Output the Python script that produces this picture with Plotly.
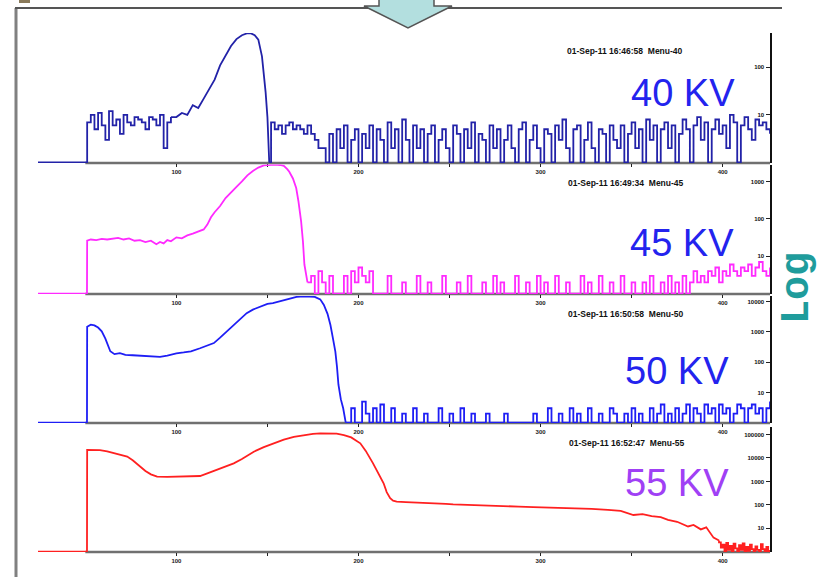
import plotly.graph_objects as go

W, H = 821, 577

# ---------------- data (channel, counts) ----------------
# 40 KV
kv40_front_x = [24, 51, 53, 55, 57, 59, 61, 63, 65, 67, 69, 71, 73, 75, 77, 79, 81, 83, 85, 87, 89, 91, 93, 95, 97]
kv40_front_y = [1, 7, 10, 5, 11, 6, 3, 12, 6, 8, 4, 10, 7, 6, 9, 8, 7, 5, 9, 8, 6, 10, 2, 7, 9]
kv40_body_x = [97, 100, 103, 106, 109, 112, 115, 118, 121, 124, 127, 130, 133, 136, 139, 141, 143, 145, 147, 148, 149, 150, 151]
kv40_body_y = [9, 9, 11, 10, 16, 14, 22, 35, 55, 110, 180, 280, 390, 470, 520, 515, 470, 380, 170, 80, 30, 9, 1]
kv40_tail_x = list(range(152, 427, 2))
kv40_tail_y = [7, 5, 6, 4, 6, 7, 5, 6, 5, 4, 6, 4,
               3, 2, 2, 1,
               4, 1, 5, 2, 6, 1, 3, 5, 1, 4,
               2, 6, 1, 5, 3, 1, 7, 2, 5, 1,
               8, 3, 1, 6, 2, 5, 1, 4, 6, 1,
               3, 5, 2, 1, 6, 4, 1, 5, 2, 7,
               1, 4, 3, 1, 6, 2, 5, 1, 3, 6,
               2, 1, 5, 7, 1, 3, 6, 2, 1, 5,
               4, 1, 6, 3, 8, 2, 1, 5, 6, 1,
               3, 7, 2, 1, 5, 4, 1, 6, 3, 2,
               6, 1, 4, 7, 2, 5, 1, 8, 3, 6,
               1, 5, 7, 2, 6, 1, 4, 8, 5, 1,
               6, 9, 3, 7, 1, 5, 8, 4, 6, 2,
               10, 7, 1, 6, 9, 5, 3, 8, 6, 7,
               5, 4]

# 45 KV
kv45_body_x = [24, 50.9, 51, 53, 56, 59, 62, 65, 68, 71, 74, 77, 80, 83, 86, 89, 91, 93, 95, 97, 100,
               103, 106, 109, 112, 115, 117, 119, 121, 124, 127, 130, 133, 136, 139, 142, 145, 148,
               151, 154, 157, 159, 161, 162, 164, 165.8, 167, 168.5, 169.5, 170.3, 172]
kv45_body_y = [1, 1, 26, 28, 27, 29, 28, 30, 31, 28, 30, 26, 27, 24, 26, 21, 24, 22, 27, 25, 32,
               30, 36, 40, 45, 52, 70, 110, 150, 220, 360, 520, 720, 1000, 1450, 1900, 2350, 2700,
               2800, 2800, 2750, 2600, 2100, 1820, 1200, 665, 300, 85, 25, 6, 2]
kv45_tail_x = list(range(172, 427, 2))
kv45_tail_y = [2, 3, 1, 4, 2, 1, 3, 1, 1, 1,
               3, 1, 4, 2, 5, 3, 2, 4, 1, 1,
               1, 1, 3, 1, 1, 1, 2, 1, 1, 1,
               3, 1, 1, 2, 1, 1, 1, 3, 1, 1,
               1, 2, 1, 1, 3, 1, 1, 1, 2, 1,
               1, 3, 1, 2, 1, 1, 1, 3, 1, 1,
               2, 1, 1, 3, 1, 2, 1, 1, 3, 1,
               1, 2, 1, 1, 1, 3, 1, 2, 1, 1,
               3, 1, 1, 2, 1, 1, 3, 1, 1, 2,
               1, 1, 2, 1, 3, 1, 1, 2, 1, 3,
               1, 2, 1, 3, 1, 2, 4, 2, 3, 2,
               4, 3, 5, 2, 4, 3, 6, 4, 3, 5,
               4, 6, 3, 5, 7, 4, 3, 5]

# 50 KV
kv50_body_x = [24, 50.9, 51, 53, 55, 57, 59, 61, 63.7, 66, 69, 72, 76, 80, 84, 88, 91, 95, 100, 104,
               108, 113, 117, 120.6, 124, 127.6, 131, 134, 138.6, 142, 146, 150, 153, 157, 160, 163,
               166, 170, 173, 176, 179, 181, 183, 184.6, 186, 187.3, 188.2, 189, 190.3, 191.6, 193]
kv50_body_y = [1, 1, 1500, 1750, 1650, 1400, 1050, 600, 230, 185, 200, 175, 170, 165, 160, 158, 150,
               165, 195, 210, 230, 290, 350, 430, 650, 1030, 1600, 2300, 4200, 5500, 7000, 8500, 9000,
               10500, 12000, 13500, 14500, 15000, 15000, 14500, 12000, 7800, 4000, 1700, 600, 225, 70,
               18, 6, 3, 1]
kv50_tail_x = list(range(194, 427, 2))
kv50_tail_y = [1, 3, 1, 1, 5, 2, 1, 3, 1, 4,
               1, 1, 3, 1, 1, 2, 1, 1, 3, 1,
               1, 2, 1, 1, 1, 3, 1, 1, 2, 1,
               1, 3, 1, 1, 2, 1, 1, 1, 2, 1,
               1, 1, 1, 2, 1, 1, 1, 1, 1, 1,
               1, 2, 1, 1, 1, 3, 1, 1, 2, 1,
               1, 3, 1, 2, 1, 1, 3, 1, 1, 2,
               1, 1, 3, 2, 1, 1, 2, 1, 3, 1,
               2, 1, 1, 3, 1, 2, 4, 1, 2, 1,
               3, 1, 2, 4, 1, 3, 2, 1, 4, 2,
               3, 1, 4, 2, 3, 1, 2, 4, 3, 1,
               3, 4, 2, 3, 1, 3, 5]

# 55 KV
kv55_body_x = [24, 50.9, 51, 55, 58, 62, 66, 70, 73, 76, 80, 83, 86, 89.4, 95, 100, 105, 110, 113, 117,
               122.3, 127, 131.5, 136, 142.5, 148, 153.5, 159, 164.5, 170, 175, 179, 184, 188, 192,
               196, 201, 204, 208, 211, 213.8, 215.5, 217.4, 219, 221, 226, 232, 237.5, 243, 248, 252,
               258, 265, 272, 280, 288, 296, 304, 312, 320, 328, 337, 344, 351, 356, 361, 366, 370,
               375, 381, 384, 388, 391, 395, 398]
kv55_body_y = [1, 1, 22000, 22500, 21500, 19000, 16000, 13000, 11400, 8000, 4300, 2800, 2000, 1600,
               1550, 1600, 1580, 1650, 1700, 2200, 3100, 4500, 5900, 9000, 18500, 29000, 42500, 60000,
               80000, 96000, 107000, 112000, 113000, 108000, 95000, 75000, 42000, 20000, 5900, 2000,
               835, 350, 192, 150, 138, 132, 128, 125, 118, 110, 105, 100, 95, 92, 88, 84, 80, 78, 75,
               72, 68, 61, 55, 37, 40, 33, 30, 23, 19, 12, 14, 9, 11, 4, 3]
kv55_tail_x = list(range(398, 427, 1))
kv55_tail_y = [2.5, 1.5, 2, 1, 2.4, 1.2, 1.8, 1, 2.2, 1.4, 1, 1.9, 1.2, 2.3, 1, 1.6, 1.1, 2, 1.3, 1,
               1.7, 1.2, 1, 2.1, 1.3, 1, 1.6, 1, 1.2]

panel_labels = ["40 KV", "45 KV", "50 KV", "55 KV"]
panel_stamps = ["01-Sep-11 16:46:58  Menu-40", "01-Sep-11 16:49:34  Menu-45",
                "01-Sep-11 16:50:58  Menu-50", "01-Sep-11 16:52:47  Menu-55"]
x_tickvals = [100, 150, 200, 250, 300, 350, 400]
x_ticktext = ["100", "", "200", "", "300", "", "400"]
y_tickvals = [[10, 100], [10, 100, 1000], [10, 100, 1000, 10000], [10, 100, 1000, 10000, 100000]]
y_ticktext = [["10", "100"], ["10", "100", "1000"], ["10", "100", "1000", "10000"],
              ["10", "100", "1000", "10000", "100000"]]
y_top = [2.72, 3.45, 4.19, 5.32]

# ---------------- styling / layout ----------------
colors = ["#2222a8", "#ff2aff", "#1e1ef5", "#ff2020"]
label_colors = ["#2323ee", "#2323ee", "#2323ee", "#a040f5"]
panel_pix = [(33, 163), (164.6, 294), (296, 423), (427, 552)]  # (top, bottom) in pixels
label_pos = [(683, 93), (682, 243), (677, 371), (677, 483)]
stamp_pos = [(625, 51), (626, 183), (626, 314), (627, 443)]

def px(x):
    return x / W

def py(y):
    return 1 - y / H

fig = go.Figure()

series = [
    [(kv40_front_x, kv40_front_y, "hv"), (kv40_body_x, kv40_body_y, "linear"),
     ([kv40_body_x[-1]] + kv40_tail_x, [kv40_body_y[-1]] + kv40_tail_y, "hv")],
    [(kv45_body_x, kv45_body_y, "linear"),
     ([kv45_body_x[-1]] + kv45_tail_x, [kv45_body_y[-1]] + kv45_tail_y, "hv")],
    [(kv50_body_x, kv50_body_y, "linear"),
     ([kv50_body_x[-1]] + kv50_tail_x, [kv50_body_y[-1]] + kv50_tail_y, "hv")],
    [(kv55_body_x, kv55_body_y, "linear"),
     ([kv55_body_x[-1]] + kv55_tail_x, [kv55_body_y[-1]] + kv55_tail_y, "hv")],
]

layout = dict(
    width=W, height=H, margin=dict(l=0, r=0, t=0, b=0),
    paper_bgcolor="white", plot_bgcolor="white", showlegend=False,
    font=dict(family="Liberation Sans, Arial, sans-serif"),
)
shapes = []
annotations = []

for i in range(4):
    n = i + 1
    xa = "x" if n == 1 else f"x{n}"
    ya = "y" if n == 1 else f"y{n}"
    for sx, sy, shape in series[i]:
        fig.add_trace(go.Scatter(x=sx, y=sy, mode="lines", xaxis=xa, yaxis=ya,
                                 line=dict(color=colors[i], width=1.8, shape=shape),
                                 hoverinfo="skip"))
    top, bot = panel_pix[i]
    layout[f"xaxis{n}" if n > 1 else "xaxis"] = dict(
        domain=[px(38), px(770)], range=[24, 426], anchor=ya,
        showgrid=False, zeroline=False, showline=False,
        tickvals=x_tickvals, ticktext=["<b>" + t + "</b>" if t else "" for t in x_ticktext],
        ticks="outside", ticklen=3,
        tickcolor="#222", tickwidth=1.5, tickfont=dict(size=6, color="#222"),
    )
    layout[f"yaxis{n}" if n > 1 else "yaxis"] = dict(
        domain=[py(bot), py(top)], type="log", range=[-0.01, y_top[i]], anchor=xa,
        side="right", showgrid=False, zeroline=False, showline=True,
        linecolor="#111", linewidth=1.5, ticks="inside", ticklen=4, tickcolor="#222",
        ticklabelposition="inside", tickvals=y_tickvals[i],
        ticktext=["<b>" + t + "</b>" for t in y_ticktext[i]],
        tickfont=dict(size=6, color="#111"),
    )
    # gray x axis line starting at the rise channel
    shapes.append(dict(type="line", xref=xa, yref=f"{ya} domain", x0=50, x1=426, y0=0, y1=0,
                       line=dict(color="#707070", width=2.5), layer="below"))
    lx, ly = label_pos[i]
    annotations.append(dict(text=panel_labels[i], xref="paper", yref="paper",
                            x=px(lx), y=py(ly), xanchor="center", yanchor="middle",
                            showarrow=False,
                            font=dict(size=38, color=label_colors[i],
                                      family="Liberation Sans, Arial, sans-serif")))
    sx_, sy_ = stamp_pos[i]
    annotations.append(dict(text="<b>" + panel_stamps[i] + "</b>", xref="paper", yref="paper",
                            x=px(sx_), y=py(sy_), xanchor="center", yanchor="middle",
                            showarrow=False, font=dict(size=8.5, color="#111")))

# "Log" side label
annotations.append(dict(text="<b>Log</b>", xref="paper", yref="paper", x=px(797), y=py(288),
                        xanchor="center", yanchor="middle", showarrow=False, textangle=-90,
                        font=dict(size=40, color="#1f9c9c",
                                  family="Liberation Mono, Courier New, monospace")))

# frame lines
shapes.append(dict(type="line", xref="paper", yref="paper", x0=px(16), x1=px(16),
                   y0=py(8), y1=py(578), line=dict(color="#808080", width=3)))
shapes.append(dict(type="line", xref="paper", yref="paper", x0=px(15), x1=px(782),
                   y0=py(8), y1=py(8), line=dict(color="#555555", width=2)))
shapes.append(dict(type="rect", xref="paper", yref="paper", x0=px(19), x1=px(30),
                   y0=py(3), y1=py(0), line=dict(width=0), fillcolor="#8a7a5a"))

# arrow at top
arrow_pts = [(379, -2), (434, -2), (434, 6), (452, 6), (408, 28), (364, 6), (379, 6)]
path = "M " + " L ".join(f"{px(a):.5f},{py(b):.5f}" for a, b in arrow_pts) + " Z"
shapes.append(dict(type="path", xref="paper", yref="paper", path=path,
                   fillcolor="#b3dfdf", line=dict(color="#555555", width=1.5)))

layout["shapes"] = shapes
layout["annotations"] = annotations
fig.update_layout(**layout)

fig.write_html("out.html",
               config={"displayModeBar": False, "staticPlot": True},
               post_script="document.body.style.margin='0';document.body.style.padding='0';"
                           "document.body.style.overflow='hidden';")
